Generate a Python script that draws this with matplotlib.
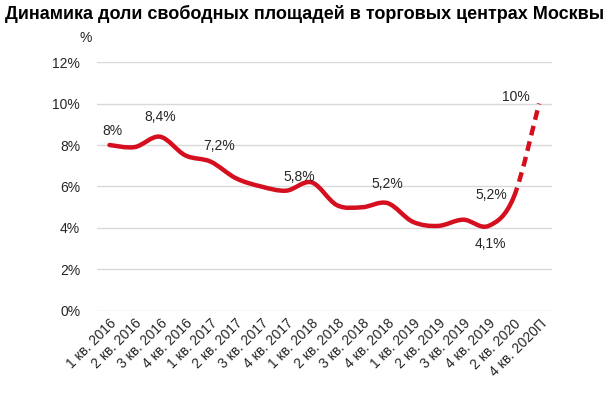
import matplotlib.pyplot as plt
from matplotlib.path import Path
from matplotlib.patches import PathPatch

plt.rcParams['font.family'] = ['Liberation Sans', 'DejaVu Sans']

quarters = ['1 кв. 2016', '2 кв. 2016', '3 кв. 2016', '4 кв. 2016',
            '1 кв. 2017', '2 кв. 2017', '3 кв. 2017', '4 кв. 2017',
            '1 кв. 2018', '2 кв. 2018', '3 кв. 2018', '4 кв. 2018',
            '1 кв. 2019', '2 кв. 2019', '3 кв. 2019', '4 кв. 2019',
            '2 кв. 2020', '4 кв. 2020П']
vacancy = [8.0, 7.9, 8.4, 7.5, 7.2, 6.4, 6.0, 5.8, 6.2, 5.1, 5.0, 5.2,
           4.3, 4.1, 4.4, 4.1, 5.5, 10.0]

label_idx = [0, 2, 4, 7, 11, 15, 16, 17]
label_txt = ['8%', '8,4%', '7,2%', '5,8%', '5,2%', '4,1%', '5,2%', '10%']
label_off = [(2, 10), (0, 14), (6, 11), (9, 10), (0, 14), (1, -13), (-16, 1), (-17, 5)]

RED = '#d50f1f'


def smooth_path(xs, ys, start, stop):
    # excel-like smoothed line (cubic bezier through the points)
    n = len(xs)
    verts = [(xs[start], ys[start])]
    codes = [Path.MOVETO]
    for i in range(start, stop):
        p0 = max(i - 1, 0)
        p3 = min(i + 2, n - 1)
        c1 = (xs[i] + (xs[i + 1] - xs[p0]) / 6, ys[i] + (ys[i + 1] - ys[p0]) / 6)
        c2 = (xs[i + 1] - (xs[p3] - xs[i]) / 6, ys[i + 1] - (ys[p3] - ys[i]) / 6)
        verts += [c1, c2, (xs[i + 1], ys[i + 1])]
        codes += [Path.CURVE4] * 3
    return Path(verts, codes)


fig = plt.figure(figsize=(6.09, 3.94), dpi=100)
ax = fig.add_axes([0.159, 0.2107, 0.747, 0.6319])

x = list(range(len(quarters)))
n = len(x)
solid = smooth_path(x, vacancy, 0, n - 2)
dashed = smooth_path(x, vacancy, n - 2, n - 1)
ax.add_patch(PathPatch(solid, fill=False, edgecolor=RED, lw=3.2, capstyle='round', joinstyle='round'))
ax.add_patch(PathPatch(dashed, fill=False, edgecolor=RED, lw=3.2, linestyle=(0, (2.2, 1.4))))

for i, t, off in zip(label_idx, label_txt, label_off):
    ax.annotate(t, (x[i], vacancy[i]), xytext=off, textcoords='offset points',
                ha='center', va='center', fontsize=10, color='#262626')

ax.set_xlim(-0.5, n - 0.5)
ax.set_ylim(0, 12)
ax.set_yticks(range(0, 13, 2))
ax.set_yticklabels([f'{v}%' for v in range(0, 13, 2)], fontsize=10, color='#262626')
ax.set_xticks(x)
ax.set_xticklabels(quarters, rotation=45, ha='right', rotation_mode='anchor', fontsize=10, color='#262626')
ax.tick_params(length=0, axis='y', pad=12)
ax.tick_params(length=0, axis='x', pad=4)
ax.grid(axis='y', color='#d9d9d9', lw=1)
ax.set_axisbelow(True)
for s in ax.spines.values():
    s.set_visible(False)

fig.text(0.008, 0.965, 'Динамика доли свободных площадей в торговых центрах Москвы',
         fontsize=13, fontweight='bold', ha='left', va='center')
fig.text(0.141, 0.903, '%', fontsize=10, ha='center', va='center', color='#262626')

fig.savefig('out.png', dpi=100)
